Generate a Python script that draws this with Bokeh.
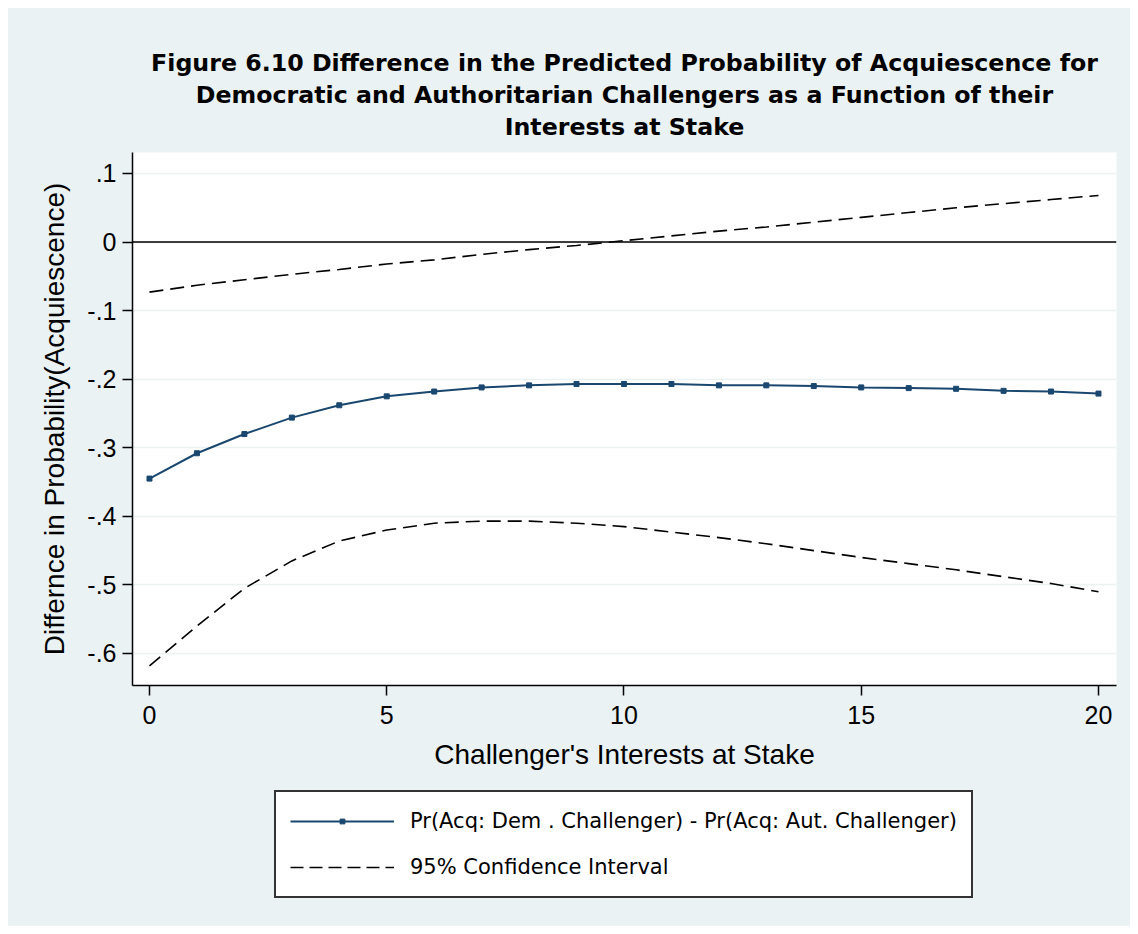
from bokeh.plotting import figure
from bokeh.layouts import column
from bokeh.models import FixedTicker, Legend, LegendItem, Span, Title, Range1d
from bokeh.embed import file_html
from bokeh.resources import INLINE

# ---- data ----
stake = list(range(21))
diff = [-0.345, -0.308, -0.280, -0.256, -0.238, -0.225, -0.218, -0.212, -0.209, -0.207,
        -0.207, -0.207, -0.209, -0.209, -0.210, -0.212, -0.213, -0.214, -0.217, -0.218, -0.221]
ci_upper = [-0.073, -0.063, -0.055, -0.047, -0.040, -0.032, -0.026, -0.018, -0.011, -0.005,
            0.002, 0.009, 0.016, 0.022, 0.029, 0.036, 0.043, 0.050, 0.056, 0.062, 0.068]
ci_lower = [-0.618, -0.560, -0.505, -0.465, -0.436, -0.420, -0.410, -0.407, -0.407, -0.410,
            -0.415, -0.423, -0.431, -0.440, -0.450, -0.460, -0.469, -0.478, -0.488, -0.498, -0.510]
y_ticks = [0.1, 0.0, -0.1, -0.2, -0.3, -0.4, -0.5, -0.6]
y_tick_labels = [".1", "0", "-.1", "-.2", "-.3", "-.4", "-.5", "-.6"]
x_ticks = [0, 5, 10, 15, 20]
title_lines = ["Figure 6.10 Difference in the Predicted Probability of Acquiescence for",
               "Democratic and Authoritarian Challengers as a Function of their",
               "Interests at Stake"]
x_title = "Challenger's Interests at Stake"
y_title = "Differnce in Probability(Acquiescence)"
legend_labels = ["Pr(Acq: Dem . Challenger) - Pr(Acq: Aut. Challenger)", "95% Confidence Interval"]

FONT = "Liberation Sans"
BG = "#EAF2F3"
NAVY = "#1A476F"
DASH = "14 7"

# ---------------- main chart ----------------
p = figure(width=1122, height=777, output_backend="svg", toolbar_location=None,
           x_range=Range1d(-0.358, 20.38), y_range=Range1d(-0.6467, 0.1306),
           min_border_left=124, min_border_right=14, min_border_top=144, min_border_bottom=100)
p.title = None
p.background_fill_color = "white"
p.border_fill_color = BG
p.outline_line_color = None

# title lines stacked outward from the frame (spacer first)
p.add_layout(Title(text=" ", text_font_size="1px", standoff=8, text_color=BG), "above")
for line in reversed(title_lines):
    p.add_layout(Title(text=line, align="center", text_font="DejaVu Sans",
                       text_font_size="23.7px", text_font_style="bold", text_color="black",
                       standoff=2), "above")

# grid
p.xgrid.visible = False
p.ygrid.ticker = FixedTicker(ticks=y_ticks)
p.ygrid.grid_line_color = BG
p.ygrid.grid_line_width = 1.5

# axes
p.xaxis.ticker = FixedTicker(ticks=x_ticks)
p.yaxis.ticker = FixedTicker(ticks=y_ticks)
p.yaxis.major_label_overrides = {t: l for t, l in zip(y_ticks, y_tick_labels)}
p.xaxis.axis_label = x_title
p.yaxis.axis_label = y_title
for ax in (p.xaxis, p.yaxis):
    ax.axis_line_color = "black"
    ax.axis_line_width = 1.5
    ax.major_tick_line_color = "black"
    ax.major_tick_line_width = 1.5
    ax.major_tick_out = 10
    ax.major_tick_in = 0
    ax.minor_tick_line_color = None
    ax.major_label_text_font = FONT
    ax.major_label_text_font_size = "25px"
    ax.major_label_text_color = "black"
    ax.axis_label_text_font = FONT
    ax.axis_label_text_font_size = "28px"
    ax.axis_label_text_font_style = "normal"
    ax.axis_label_text_color = "black"
p.xaxis.major_label_standoff = 10
p.yaxis.major_label_standoff = 6
p.xaxis.axis_label_standoff = 12
p.yaxis.axis_label_standoff = 14

# zero line
p.add_layout(Span(location=0, dimension="width", line_color="black", line_width=1.5))

# series
p.line(stake, diff, line_color=NAVY, line_width=2)
p.scatter(stake, diff, marker="square", size=5, fill_color=NAVY, line_color=NAVY)
p.line(stake, ci_upper, line_color="black", line_width=1.6, line_dash=DASH)
p.line(stake, ci_lower, line_color="black", line_width=1.6, line_dash=DASH)

# ---------------- legend strip ----------------
# same series drawn again, but outside this strip's visible ranges: only their legend keys show
lg = figure(width=1122, height=141, output_backend="svg", toolbar_location=None,
            x_range=Range1d(100, 101), y_range=Range1d(100, 101),
            x_axis_location=None, y_axis_location=None,
            min_border_left=0, min_border_right=0, min_border_top=0, min_border_bottom=0)
lg.title = None
lg.xgrid.visible = False
lg.ygrid.visible = False
lg.background_fill_alpha = 0
lg.border_fill_alpha = 0
lg.outline_line_color = None

k_line = lg.line(stake, diff, line_color=NAVY, line_width=2)
k_mark = lg.scatter(stake, diff, marker="square", size=5, fill_color=NAVY, line_color=NAVY)
k_ci = lg.line(stake, ci_upper, line_color="black", line_width=1.6, line_dash="13 6")

legend = Legend(items=[LegendItem(label=legend_labels[0], renderers=[k_line, k_mark]),
                       LegendItem(label=legend_labels[1], renderers=[k_ci])],
                location=(142, 28), orientation="vertical")
legend.label_text_font = "DejaVu Sans"
legend.label_text_font_size = "21px"
legend.label_text_color = "black"
legend.glyph_width = 104
legend.glyph_height = 12
legend.label_height = 30
legend.label_standoff = 16
legend.spacing = 16
legend.padding = 14
legend.margin = 0
legend.border_line_color = "#333333"
legend.border_line_alpha = 1.0
legend.border_line_width = 2
legend.background_fill_color = "white"
legend.background_fill_alpha = 1.0
lg.add_layout(legend)

layout = column(p, lg, spacing=0)
layout.margin = (8, 0, 0, 8)
layout.styles = {"background-color": BG}
open("out.html", "w").write(file_html(layout, INLINE))
